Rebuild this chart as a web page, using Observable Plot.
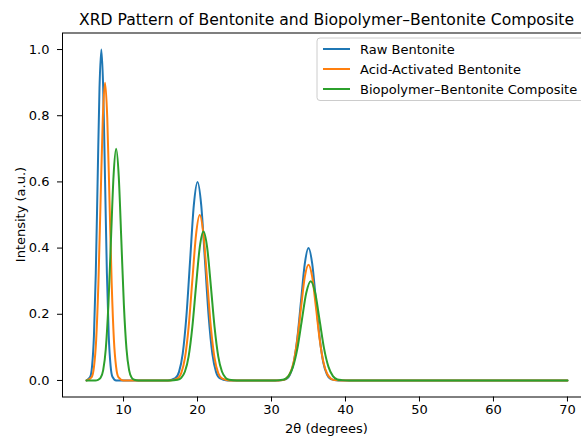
<!DOCTYPE html>
<html>
<head>
<meta charset="utf-8">
<script src="https://cdn.jsdelivr.net/npm/d3@7"></script>
<script src="https://cdn.jsdelivr.net/npm/@observablehq/plot@0.6"></script>
<style>
  html, body { margin: 0; padding: 0; background: white; overflow: hidden; }
  #chart { width: 581px; height: 437px; overflow: hidden; }
</style>
</head>
<body>
<div id="chart"></div>
<script>
const seriesNames = ["Raw Bentonite", "Acid-Activated Bentonite", "Biopolymer\u2013Bentonite Composite"];
const seriesColors = ["#1f77b4", "#ff7f0e", "#2ca02c"];

const rawX = [5, 5.5, 5.75, 6, 6.25, 6.5, 6.75, 7, 7.25, 7.5, 7.75, 8, 8.25, 8.5, 9, 16, 17, 17.5, 18, 18.5, 19, 19.5, 20, 20.5, 21, 21.5, 22, 22.5, 23, 24, 31, 32, 32.5, 33, 33.5, 34, 34.5, 35, 35.5, 36, 36.5, 37, 37.5, 38, 39, 70];
const rawY = [0, 0.011, 0.044, 0.135, 0.325, 0.607, 0.883, 1.0, 0.883, 0.607, 0.325, 0.135, 0.044, 0.011, 0, 0, 0.007, 0.026, 0.081, 0.195, 0.364, 0.530, 0.600, 0.530, 0.364, 0.195, 0.081, 0.026, 0.007, 0, 0, 0.004, 0.018, 0.054, 0.130, 0.243, 0.353, 0.400, 0.353, 0.243, 0.130, 0.054, 0.018, 0.004, 0, 0];

const acidX = [5, 5.7, 6.0, 6.3, 6.6, 6.9, 7.2, 7.5, 7.8, 8.1, 8.4, 8.7, 9.0, 9.3, 10, 16.3, 17.3, 17.8, 18.3, 18.8, 19.3, 19.8, 20.3, 20.8, 21.3, 21.8, 22.3, 22.8, 23.3, 24.3, 31, 31.5, 32, 32.5, 33, 33.5, 34, 34.5, 35, 35.5, 36, 36.5, 37, 37.5, 38, 38.5, 39.5, 70];
const acidY = [0, 0.010, 0.040, 0.122, 0.292, 0.546, 0.794, 0.900, 0.794, 0.546, 0.292, 0.122, 0.040, 0.010, 0, 0, 0.006, 0.022, 0.068, 0.162, 0.303, 0.441, 0.500, 0.441, 0.303, 0.162, 0.068, 0.022, 0.006, 0, 0, 0.001, 0.006, 0.021, 0.057, 0.126, 0.222, 0.313, 0.350, 0.313, 0.222, 0.126, 0.057, 0.021, 0.006, 0.001, 0, 0];

const compX = [5, 6.2, 6.55, 6.9, 7.25, 7.6, 7.95, 8.3, 8.65, 9.0, 9.35, 9.7, 10.05, 10.4, 10.75, 11.1, 11.45, 12, 16.3, 17.3, 17.8, 18.3, 18.8, 19.3, 19.8, 20.3, 20.8, 21.3, 21.8, 22.3, 22.8, 23.3, 23.8, 24.3, 25.3, 30.5, 31.1, 31.7, 32.3, 32.9, 33.5, 34.1, 34.7, 35.3, 35.9, 36.5, 37.1, 37.7, 38.3, 38.9, 39.5, 40.5, 70];
const compY = [0, 0, 0.002, 0.008, 0.031, 0.095, 0.227, 0.425, 0.618, 0.700, 0.618, 0.425, 0.227, 0.095, 0.031, 0.008, 0.002, 0, 0, 0.002, 0.008, 0.027, 0.073, 0.162, 0.286, 0.402, 0.450, 0.402, 0.286, 0.162, 0.073, 0.027, 0.008, 0.002, 0, 0, 0.001, 0.003, 0.013, 0.041, 0.097, 0.182, 0.265, 0.300, 0.265, 0.182, 0.097, 0.041, 0.013, 0.003, 0.001, 0, 0];

const xTicks = [10, 20, 30, 40, 50, 60, 70];
const yTicks = [0, 0.2, 0.4, 0.6, 0.8, 1.0];

const titleText = "XRD Pattern of Bentonite and Biopolymer\u2013Bentonite Composite";
const xLabel = "2\u03b8 (degrees)";
const yLabel = "Intensity (a.u.)";

const rows = [];
[[rawX, rawY], [acidX, acidY], [compX, compY]].forEach(([xs, ys], i) => {
  xs.forEach((x, j) => rows.push({series: seriesNames[i], x, y: ys[j]}));
});

const W = 581, H = 437;
const mL = 62, mR = -10, mT = 32.5, mB = 40.5;
const font = "DejaVu Sans, sans-serif";

const plot = Plot.plot({
  width: W, height: H,
  marginLeft: mL, marginRight: mR, marginTop: mT, marginBottom: mB,
  x: {domain: [1.75, 73.25]},
  y: {domain: [-0.05, 1.05]},
  color: {domain: seriesNames, range: seriesColors},
  style: {fontFamily: font, fontSize: "13px", color: "#000", background: "white", overflow: "hidden", maxWidth: "none"},
  marks: [
    Plot.line(rows, {x: "x", y: "y", z: "series", stroke: "series", curve: "monotone-x", strokeWidth: 2}),
    Plot.frame({stroke: "#000", strokeWidth: 1}),
    Plot.axisX({ticks: xTicks, tickSize: 5, tickPadding: 3, label: null, tickFormat: d => String(d), fontSize: 13}),
    Plot.axisY({ticks: yTicks, tickSize: 5, tickPadding: 8, label: null, tickFormat: d => d.toFixed(1), fontSize: 13})
  ]
});

const svg = d3.select(plot);
const right = W - mR;           // axes right edge (beyond the cropped view)
const axCenter = (mL + right) / 2;

svg.append("text")
  .attr("x", axCenter).attr("y", 25)
  .attr("text-anchor", "middle")
  .attr("font-family", font).attr("font-size", 15.6).attr("fill", "#000")
  .text(titleText);

svg.append("text")
  .attr("x", axCenter).attr("y", 433)
  .attr("text-anchor", "middle")
  .attr("font-family", font).attr("font-size", 13).attr("fill", "#000")
  .text(xLabel);

svg.append("text")
  .attr("transform", `translate(20,${(mT + H - mB) / 2}) rotate(-90)`)
  .attr("text-anchor", "middle").attr("dy", "0.35em")
  .attr("font-family", font).attr("font-size", 13).attr("fill", "#000")
  .text(yLabel);

// legend (upper right)
const lg = svg.append("g");
const boxRight = right - 6.5, boxLeft = 317, boxTop = 38, boxBottom = 100.5;
lg.append("rect")
  .attr("x", boxLeft).attr("y", boxTop)
  .attr("width", boxRight - boxLeft).attr("height", boxBottom - boxTop)
  .attr("rx", 3).attr("fill", "white").attr("fill-opacity", 0.8)
  .attr("stroke", "#cccccc").attr("stroke-width", 1);
seriesNames.forEach((name, i) => {
  const yy = 49 + i * 20;
  lg.append("line").attr("x1", 323).attr("x2", 350).attr("y1", yy).attr("y2", yy)
    .attr("stroke", seriesColors[i]).attr("stroke-width", 2);
  lg.append("text").attr("x", 360).attr("y", yy).attr("dy", "0.35em")
    .attr("text-anchor", "start")
    .attr("font-family", font).attr("font-size", 13).attr("fill", "#000")
    .text(name);
});

document.getElementById("chart").appendChild(plot);
</script>
</body>
</html>
